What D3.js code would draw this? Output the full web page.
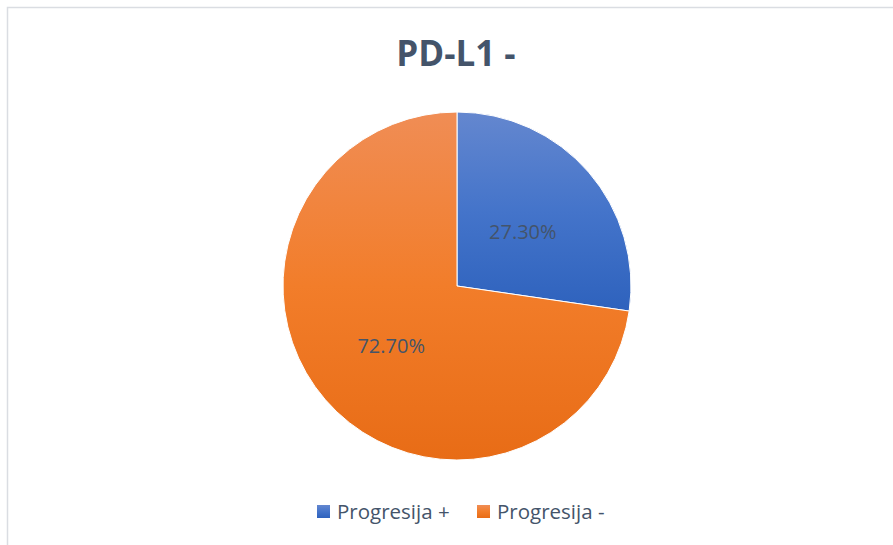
<!DOCTYPE html>
<html>
<head>
<meta charset="utf-8">
<script src="https://cdn.jsdelivr.net/npm/d3@7"></script>
<style>
  html, body { margin: 0; padding: 0; background: #fff; }
  svg { display: block; }
  text { font-family: "Open Sans", "Noto Sans", sans-serif; }
</style>
</head>
<body>
<svg id="chart" width="893" height="545"></svg>
<script>
const title = "PD-L1 -";
const categories = ["Progresija +", "Progresija -"];
const values = [27.3, 72.7];
const labels = ["27.30%", "72.70%"];
const gradTop = ["#6487CF", "#F08D55"];
const gradMid = ["#4474CA", "#F27D2A"];
const gradBottom = ["#2E62BD", "#E86C16"];

const W = 893, H = 545;
const svg = d3.select("#chart");
const textColor = "#44546A";

// frame
svg.append("rect")
  .attr("x", 7.5).attr("y", 7.5)
  .attr("width", 1000).attr("height", 1000)
  .attr("fill", "none").attr("stroke", "#DADDE2").attr("stroke-width", 1.5);

const defs = svg.append("defs");
categories.forEach((c, i) => {
  const g = defs.append("linearGradient")
    .attr("id", "grad" + i)
    .attr("x1", 0).attr("y1", 0).attr("x2", 0).attr("y2", 1);
  g.append("stop").attr("offset", "0%").attr("stop-color", gradTop[i]);
  g.append("stop").attr("offset", "50%").attr("stop-color", gradMid[i]);
  g.append("stop").attr("offset", "100%").attr("stop-color", gradBottom[i]);
});

// title
svg.append("text")
  .attr("x", 456).attr("y", 66)
  .attr("text-anchor", "middle")
  .attr("font-size", 35).attr("font-weight", 700)
  .attr("fill", textColor)
  .text(title);

const cx = 457, cy = 286, r = 174;
const pie = d3.pie().sort(null).value(d => d)(values);
const arc = d3.arc().innerRadius(0).outerRadius(r);
const g = svg.append("g").attr("transform", `translate(${cx},${cy})`);

g.selectAll("path.slice").data(pie).enter().append("path")
  .attr("class", "slice")
  .attr("d", arc)
  .attr("fill", (d, i) => `url(#grad${i})`)
  .attr("stroke", "#fff").attr("stroke-width", 1);

const labelArc = d3.arc().innerRadius(r * 0.5).outerRadius(r * 0.5);
g.selectAll("text.lbl").data(pie).enter().append("text")
  .attr("class", "lbl")
  .attr("transform", d => { const [x, y] = labelArc.centroid(d); return `translate(${x},${y})`; })
  .attr("text-anchor", "middle")
  .attr("dy", "0.5em")
  .attr("font-size", 20)
  .attr("fill", textColor)
  .text((d, i) => labels[i]);

// legend
const legendX = [317, 477];
const lg = svg.append("g");
categories.forEach((c, i) => {
  lg.append("rect")
    .attr("x", legendX[i]).attr("y", 505)
    .attr("width", 13).attr("height", 13)
    .attr("fill", `url(#grad${i})`);
  lg.append("text")
    .attr("x", legendX[i] + 20).attr("y", 518.5)
    .attr("font-size", 20.5)
    .attr("fill", textColor)
    .text(c);
});
</script>
</body>
</html>
